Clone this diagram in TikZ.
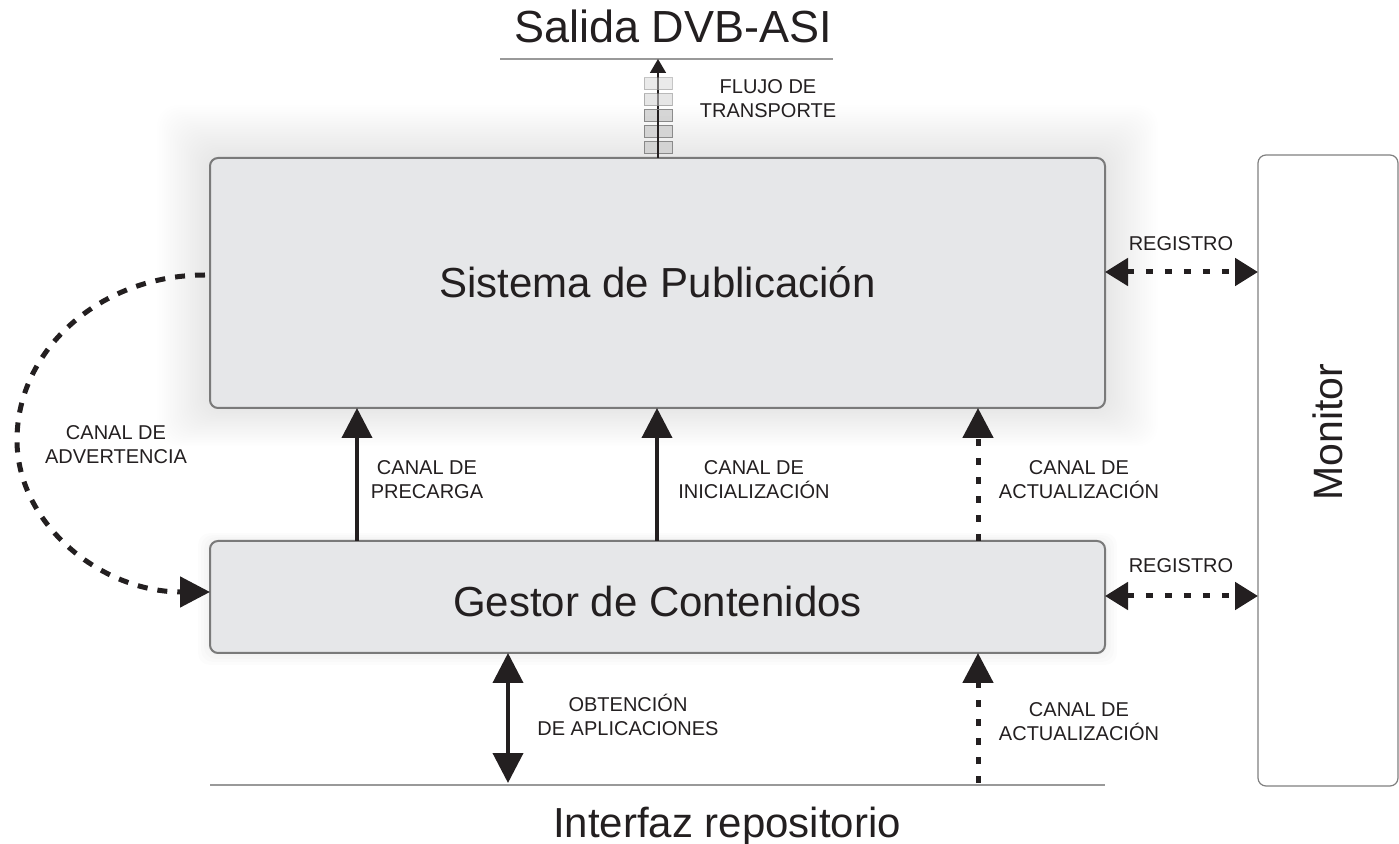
\documentclass[tikz,border=0pt]{standalone}
\usepackage{fontspec}
\setmainfont{Liberation Sans}
\usetikzlibrary{arrows.meta}
\definecolor{boxgray}{HTML}{E6E7E9}
\definecolor{bordergray}{HTML}{7A7A7A}
\definecolor{txt}{HTML}{231F20}
\tikzset{
  box/.style={draw=bordergray, line width=1pt, fill=boxgray, rounded corners=4pt, outer sep=0pt, inner sep=0pt},
  lbl/.style={font=\fontsize{10}{12}\selectfont, align=center, text=txt, inner sep=0pt},
  big/.style={font=\fontsize{21}{25}\selectfont, text=txt, inner sep=0pt, anchor=base},
  solidarr/.style={line width=2pt, draw=txt, -{Triangle[width=15pt,length=15pt]}},
  solidboth/.style={line width=2pt, draw=txt, {Triangle[width=15pt,length=15pt]}-{Triangle[width=15pt,length=15pt]}},
  dotarr/.style={line width=2.5pt, draw=txt, dash pattern=on 3.5pt off 6pt, -{Triangle[width=15pt,length=15pt]}},
  regarr/.style={line width=2.5pt, draw=txt, dash pattern=on 3.5pt off 6pt, {Triangle[width=13.5pt,length=11.5pt]}-{Triangle[width=13.5pt,length=11.5pt]}},
  dasharr/.style={line width=2.5pt, draw=txt, dash pattern=on 5pt off 5pt, -{Triangle[width=15pt,length=15pt]}},
  packet/.style={draw=black!50, fill=black!18, line width=0.5pt, minimum width=14pt, minimum height=6pt, inner sep=0pt, outer sep=0pt},
  rule/.style={draw=black!40, line width=0.8pt},
}
\begin{document}
\begin{tikzpicture}[x=0.5pt, y=-0.5pt]
\useasboundingbox (0,0) rectangle (1399,844);
% soft glow behind the top box
\foreach \g in {1,...,24} {
  \fill[black, opacity=0.0045, rounded corners=10pt]
    (210-2.2*\g,158-2.2*\g) rectangle (1105+2.2*\g,408+1.6*\g);
}
\foreach \g in {1,...,4} {
  \fill[black, opacity=0.012, rounded corners=6pt]
    (210-3*\g,541-2*\g) rectangle (1105+3*\g,653+3*\g);
}
% boxes
\node[box, minimum width=447.5pt, minimum height=125pt] (pub) at (657.5,283) {};
\node[big] (pubtxt) at (657.5,298) {Sistema de Publicación};
\node[box, minimum width=447.5pt, minimum height=56pt] (gestor) at (657.5,597) {};
\node[big] (gestortxt) at (657.5,617) {Gestor de Contenidos};
\node[box, fill=white, draw=black!50, line width=0.6pt, minimum width=70pt, minimum height=315.5pt] (monitor) at (1328,470.5) {};
\node[big, rotate=90, font=\fontsize{20.5}{24}\selectfont] (montxt) at (1342,432) {Monitor};
% top output
\coordinate (sl) at (500,59);
\coordinate (sr) at (833,59);
\draw[rule] (sl) -- (sr);
\node[big, font=\fontsize{22.5}{27}\selectfont] (salida) at (673,43) {Salida DVB-ASI};
\coordinate (ax) at (658,0);
\draw[line width=0.8pt, draw=txt, -{Triangle[width=8pt,length=7pt]}] (ax |- pub.north) -- (ax |- sl);
\foreach \i/\y/\op in {1/84/0.45, 2/100/0.55, 3/116/0.9, 4/131.5/0.9, 5/148/0.9} {
  \node[packet, fill opacity=\op, draw opacity=\op] (p\i) at (658,\y) {};
}
\draw[line width=0.8pt, draw=txt] (p3.north) -- (p5.south);
\node[lbl] (flujo) at (768,99) {FLUJO DE\\TRANSPORTE};
% vertical channels
\coordinate (c1) at (357,0);
\coordinate (c2) at (657,0);
\coordinate (c3) at (978,0);
\draw[solidarr] (c1 |- gestor.north) -- (c1 |- pub.south);
\draw[solidarr] (c2 |- gestor.north) -- (c2 |- pub.south);
\draw[dotarr] (c3 |- gestor.north) -- (c3 |- pub.south);
\node[lbl] (precarga) at (427,480) {CANAL DE\\PRECARGA};
\node[lbl] (inic) at (754,480) {CANAL DE\\INICIALIZACIÓN};
\node[lbl] (act1) at (1079,480) {CANAL DE\\ACTUALIZACIÓN};
% registro
\coordinate (r1) at (0,272);
\coordinate (r2) at (0,596);
\draw[regarr] (pub.east |- r1) -- (monitor.west |- r1);
\draw[regarr] (gestor.east |- r2) -- (monitor.west |- r2);
\node[lbl] (reg1) at (1181,244) {REGISTRO};
\node[lbl] (reg2) at (1181,566) {REGISTRO};
% bottom interface
\coordinate (il) at (210,785);
\coordinate (ir) at (1105,785);
\draw[rule] (il) -- (ir);
\node[big] (interfaz) at (727,837) {Interfaz repositorio};
\coordinate (b1) at (508,783);
\coordinate (b2) at (978,783);
\draw[solidboth] (b1 |- gestor.south) -- (b1);
\draw[dotarr] (b2) -- (b2 |- gestor.south);
\node[lbl] (obt) at (628,715) {OBTENCIÓN\\DE APLICACIONES};
\node[lbl] (act2) at (1079,722) {CANAL DE\\ACTUALIZACIÓN};
% warning channel
\coordinate (w1) at ([yshift=4pt]pub.west);
\coordinate (w2) at ([yshift=2.5pt]gestor.west);
\draw[dasharr] ([xshift=-2.5pt]w1) .. controls (101,275) and (17,349) .. (17,440)
   .. controls (17,524) and (101,592) .. (w2);
\node[lbl] (adv) at (116,445) {CANAL DE\\ADVERTENCIA};
\end{tikzpicture}
\end{document}
